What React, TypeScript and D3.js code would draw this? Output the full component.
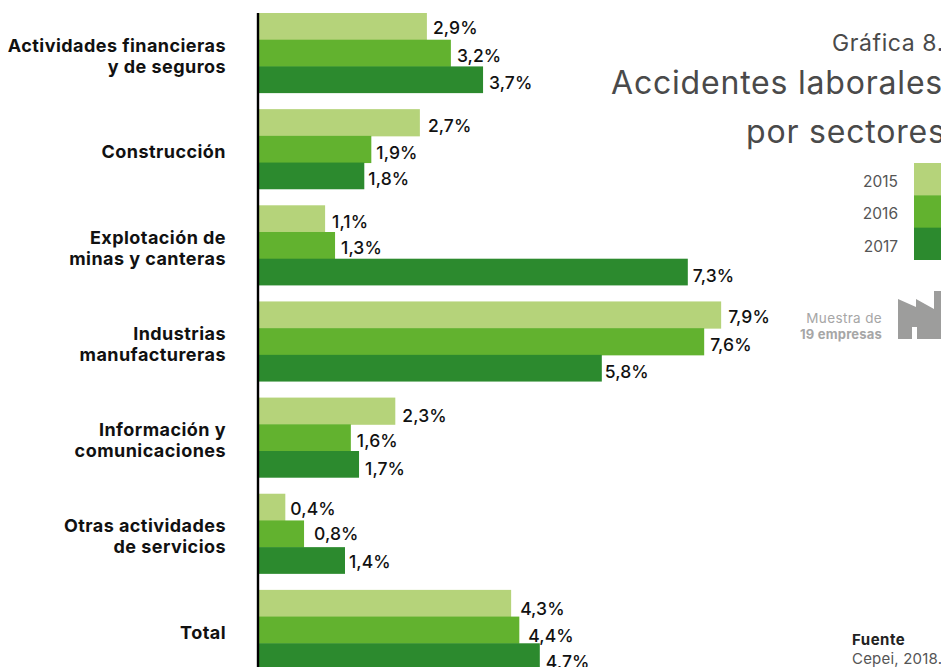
import React from "react";
import * as d3 from "d3";

const categories = [
  ["Actividades financieras", "y de seguros"],
  ["Construcción"],
  ["Explotación de", "minas y canteras"],
  ["Industrias", "manufactureras"],
  ["Información y", "comunicaciones"],
  ["Otras actividades", "de servicios"],
  ["Total"],
];
const years = ["2015", "2016", "2017"];
const barValues2015 = [2.87, 2.75, 1.13, 7.9, 2.33, 0.45, 4.31];
const barValues2016 = [3.28, 1.92, 1.3, 7.61, 1.57, 0.77, 4.45];
const barValues2017 = [3.83, 1.8, 7.33, 5.86, 1.71, 1.47, 4.8];
const labels2015 = ["2,9%", "2,7%", "1,1%", "7,9%", "2,3%", "0,4%", "4,3%"];
const labels2016 = ["3,2%", "1,9%", "1,3%", "7,6%", "1,6%", "0,8%", "4,4%"];
const labels2017 = ["3,7%", "1,8%", "7,3%", "5,8%", "1,7%", "1,4%", "4,7%"];
const colors = ["#b5d37a", "#62b22f", "#2c8a2e"];

const FONT = "Inter, 'Noto Sans', sans-serif";
const seriesValues = [barValues2015, barValues2016, barValues2017];
const seriesLabels = [labels2015, labels2016, labels2017];

// label placement, kept apart from the data
const labelGaps = [
  [6, 8, 7, 7, 7, 5, 9],
  [6, 5, 6, 6, 6, 10, 9],
  [6, 4, 5, 3, 6, 4, 6],
];
const labelDrop = [
  [8, 9, 9, 8, 11, 8, 12],
  [8.5, 9.5, 8.5, 9.5, 9.5, 6.5, 12.5],
  [9, 9, 10, 10, 11, 7, 11],
];

const x = d3.scaleLinear().domain([0, 8]).range([259, 727]);
const y = d3.scaleBand<number>().domain(d3.range(7)).range([13, 670]).paddingInner(1 / 6).paddingOuter(0);
const yInner = d3.scaleBand<number>().domain(d3.range(3)).range([0, y.bandwidth()]);
const legendY = d3.scaleBand<string>().domain(years).range([163, 260]);

export default function App() {
  return (
    <svg width={941} height={667} viewBox="0 0 941 667" style={{ position: "fixed", left: 0, top: 0, background: "#fff" }} fontFamily={FONT}>
      {seriesValues.map((vals, s) =>
        vals.map((v, i) => (
          <g key={`${s}-${i}`}>
            <rect x={x(0)} y={y(i)! + yInner(s)!} width={x(v) - x(0)} height={yInner.bandwidth() + (s < 2 ? 0.5 : 0)} fill={colors[s]} />
            <text x={x(v) + labelGaps[s][i]} y={y(i)! + yInner(s)! + yInner.bandwidth() / 2 + labelDrop[s][i]} fontSize={17.5} fontWeight={500} letterSpacing={0.1} fill="#111">
              {seriesLabels[s][i]}
            </text>
          </g>
        ))
      )}
      <line x1={258} x2={258} y1={13} y2={667} stroke="#000" strokeWidth={2.4} />
      {categories.map((lines, i) => {
        const cy = y(i)! + y.bandwidth() / 2;
        return (
          <text key={i} textAnchor="end" fontSize={18} fontWeight={700} fill="#111" letterSpacing={0.45}>
            {lines.map((l, j) => (
              <tspan key={j} x={226} y={cy + 9 + (j - (lines.length - 1) / 2) * 21}>{l}</tspan>
            ))}
          </text>
        );
      })}
      <text x={832} y={51} fontSize={23} fill="#4a4a4a" letterSpacing={0.6}>Gráfica 8.</text>
      <text x={611} y={94} fontSize={32} fill="#4a4a4a" letterSpacing={0.8}>Accidentes laborales</text>
      <text x={746} y={143} fontSize={32} fill="#4a4a4a" letterSpacing={0.8}>por sectores</text>
      {years.map((yr, i) => (
        <g key={yr}>
          <rect x={914} y={legendY(yr)} width={30} height={legendY.bandwidth() + (i < 2 ? 0.5 : 0)} fill={colors[i]} />
          <text x={898} y={legendY(yr)! + 24} textAnchor="end" fontSize={15.5} fill="#555">{yr}</text>
        </g>
      ))}
      <text x={882} y={323} textAnchor="end" fontSize={13.5} letterSpacing={0.35} fill="#a6a6a6">Muestra de</text>
      <text x={882} y={339} textAnchor="end" fontSize={13} fontWeight={700} letterSpacing={0.2} fill="#a6a6a6">19 empresas</text>
      <path d="M898,299 L916,307 V299 L934,309 V291 H945 V339 H917 V327 H912 V339 H898 Z" fill="#9d9d9c" />
      <text x={852} y={645} fontSize={15} fontWeight={700} letterSpacing={0.5} fill="#222">Fuente</text>
      <text x={852} y={664} fontSize={15} letterSpacing={0.2} fill="#555">Cepei, 2018.</text>
    </svg>
  );
}
